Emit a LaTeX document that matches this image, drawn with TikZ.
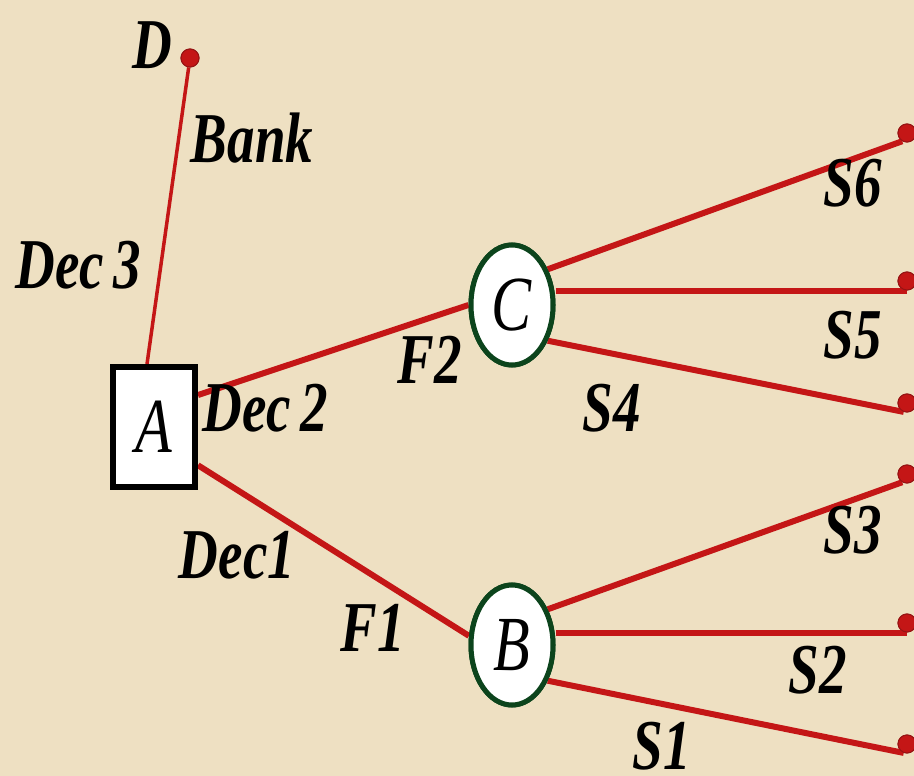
\documentclass[tikz,border=0pt]{standalone}
\usepackage{fontspec}
\setmainfont{Liberation Serif}
\usepackage{graphicx}
\usetikzlibrary{shapes.geometric}
\definecolor{bg}{RGB}{238,224,194}
\definecolor{lred}{RGB}{196,22,22}
\definecolor{dred}{RGB}{150,20,20}
\definecolor{dgreen}{RGB}{12,68,28}
\newcommand{\tall}[1]{\scalebox{1}[1.3]{#1}}
\begin{document}
\begin{tikzpicture}[x=1pt,y=-1pt,
  lbl/.style={font=\fontsize{55}{55}\selectfont\bfseries\itshape, inner sep=0pt},
  decbox/.style={draw=black, line width=6pt, fill=white, minimum width=82pt, minimum height=120pt, inner sep=0pt,
                 font=\fontsize{60}{60}\selectfont\itshape},
  chance/.style={ellipse, draw=dgreen, line width=5pt, fill=white, minimum width=82pt, minimum height=120pt, inner sep=0pt,
                 font=\fontsize{60}{60}\selectfont\itshape},
  enddot/.style={circle, fill=lred, draw=dred, line width=1pt, minimum size=18pt, inner sep=0pt},
  branch/.style={draw=lred, line width=6pt},
  thin/.style={draw=lred, line width=3.5pt}]
\fill[bg] (0,0) rectangle (914,776);
\useasboundingbox (0,0) rectangle (914,776);
% nodes
\node[decbox] (A) at (154,427) {\tall{A}};
\node[chance] (C) at (512,305) {\tall{C}};
\node[chance] (B) at (512,645) {\tall{B}};
\node[enddot] (D) at (190,58) {};
\node[enddot] (e6) at (907,133) {};
\node[enddot] (e5) at (907,281) {};
\node[enddot] (e4) at (907,403) {};
\node[enddot] (e3) at (907,474) {};
\node[enddot] (e2) at (907,623) {};
\node[enddot] (e1) at (907,744) {};
% connectors
\draw[thin] ([xshift=-7pt]A.north) -- (D);
\draw[branch] (A.36) -- (C.west);
\draw[branch] (A.-41) -- (B.168);
\draw[branch] (C.45) -- (e6.-120);
\draw[branch] (C.east |- e5.south) -- (e5.south);
\draw[branch] (C.-45) -- (e4.-110);
\draw[branch] (B.45) -- (e3.-120);
\draw[branch] (B.east |- e2.south) -- (e2.south);
\draw[branch] (B.-45) -- (e1.-110);
% redraw nodes on top
\node[decbox] at (A) {\tall{A}};
\node[chance] at (C) {\tall{C}};
\node[chance] at (B) {\tall{B}};
\node[enddot] at (D) {};
\node[enddot] at (e6) {};
\node[enddot] at (e5) {};
\node[enddot] at (e4) {};
\node[enddot] at (e3) {};
\node[enddot] at (e2) {};
\node[enddot] at (e1) {};
% labels
\node[lbl] (lD) at (152,45) {\tall{D}};
\node[lbl] (lBank) at (252,138) {\tall{Bank}};
\node[lbl] (lDec3) at (78,265) {\tall{Dec\,3}};
\node[lbl] (lDec2) at (265,408) {\tall{Dec\,2}};
\node[lbl] (lF2) at (430,360) {\tall{F2}};
\node[lbl] (lDec1) at (237,555) {\tall{Dec1}};
\node[lbl] (lF1) at (373,628) {\tall{F1}};
\node[lbl] (lS6) at (853,183) {\tall{S6}};
\node[lbl] (lS5) at (853,335) {\tall{S5}};
\node[lbl] (lS4) at (612,408) {\tall{S4}};
\node[lbl] (lS3) at (853,530) {\tall{S3}};
\node[lbl] (lS2) at (818,670) {\tall{S2}};
\node[lbl] (lS1) at (662,746) {\tall{S1}};
\end{tikzpicture}
\end{document}
